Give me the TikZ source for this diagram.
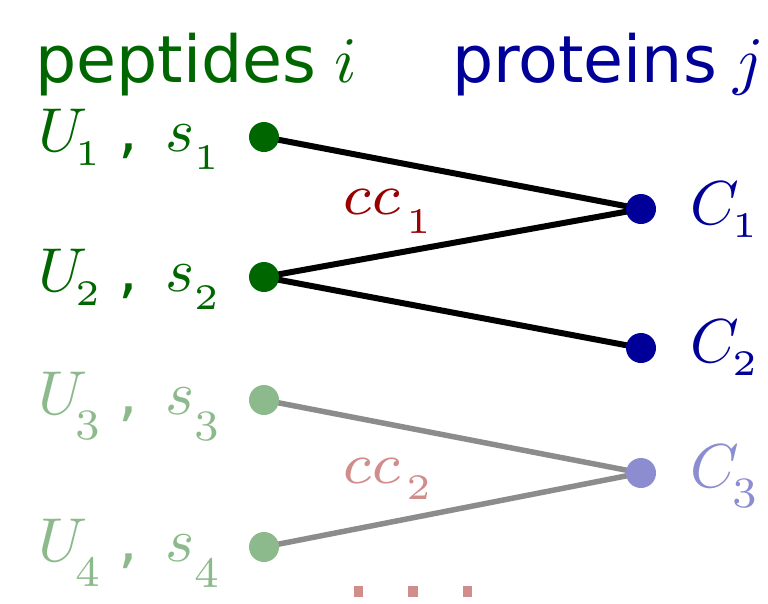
\documentclass[tikz,border=0pt]{standalone}
\usepackage{fix-cm}
\usepackage{fontspec}
\setmainfont{DejaVu Sans}
\usetikzlibrary{backgrounds}
\definecolor{pgreen}{RGB}{0,102,0}
\definecolor{pblue}{RGB}{0,0,153}
\definecolor{pred}{RGB}{153,0,0}
\newcommand{\fs}[1]{\fontsize{#1}{#1}\selectfont}
\newcommand{\mt}[2]{\scalebox{#1}{\fs{10}$#2$}}
\newcommand{\dk}[1]{\mt{7.2}{\scriptscriptstyle #1}}
\newcommand{\fd}[1]{\mt{6.2}{\scriptstyle #1}}
\newcommand{\pc}[3]{\rlap{\hspace*{#1}\raisebox{#2}{#3}}}
% peptide label: U-sub, s-sub, U-sub raise, s-sub raise
\newcommand{\plab}[4]{\makebox[185pt][l]{\pc{0pt}{0pt}{\mt{6.2}{U}}\pc{37pt}{#3}{#1}\pc{80pt}{0pt}{,}\pc{127pt}{0pt}{\mt{6.2}{s}}\pc{156pt}{#4}{#2}}}
% protein label: sub, raise
\newcommand{\clab}[2]{\makebox[70pt][l]{\pc{0pt}{0pt}{\mt{6.2}{C}}\pc{42pt}{#2}{#1}}}
% cc label
\newcommand{\cclab}[2]{\makebox[85pt][l]{\pc{0pt}{0pt}{\mt{8.3}{\scriptstyle cc}}\pc{64pt}{#2}{#1}}}
\tikzset{
  lab/.style={inner sep=0pt, outer sep=0pt, anchor=base west, font=\fs{62}},
  dot/.style={circle, inner sep=0pt, minimum size=30pt},
  strong/.style={line width=6pt, black},
  faint/.style={line width=5.5pt, black!45},
}
\begin{document}
\begin{tikzpicture}[x=1pt, y=-1pt]
\useasboundingbox (0,0) rectangle (768,603);
% headers
\node[lab, text=pgreen, font=\fs{65}] (hpep) at (35,82) {peptides \hspace{-2pt}\mt{6.5}{i}};
\node[lab, text=pblue, font=\fs{65}] (hpro) at (452,82) {proteins \hspace{-4pt}\mt{6.5}{j}};
% dots
\node[dot, fill=pgreen] (p1) at (264,137) {};
\node[dot, fill=pgreen] (p2) at (264,277) {};
\node[dot, fill=pgreen!45] (p3) at (264,400) {};
\node[dot, fill=pgreen!45] (p4) at (264,547) {};
\node[dot, fill=pblue] (c1) at (641,209) {};
\node[dot, fill=pblue] (c2) at (641,348) {};
\node[dot, fill=pblue!45] (c3) at (641,473) {};
% edges
\begin{scope}[on background layer]
\draw[strong] (p1.center) -- (c1.center);
\draw[strong] (p2.center) -- (c1.center);
\draw[strong] (p2.center) -- (c2.center);
\draw[faint] (p3.center) -- (c3.center);
\draw[faint] (p4.center) -- (c3.center);
\end{scope}
% peptide labels
\node[lab, text=pgreen] (l1) at (38,151) {\plab{\dk1}{\dk1}{-14pt}{-18pt}};
\node[lab, text=pgreen] (l2) at (38,291) {\plab{\dk2}{\dk2}{-14pt}{-18pt}};
\node[lab, text=pgreen!45] (l3) at (38,414) {\plab{\fd3}{\fd3}{-25pt}{-26pt}};
\node[lab, text=pgreen!45] (l4) at (38,561) {\plab{\fd4}{\fd4}{-25pt}{-26pt}};
% protein labels
\node[lab, text=pblue] (lc1) at (690,224) {\clab{\dk1}{-13pt}};
\node[lab, text=pblue] (lc2) at (690,362) {\clab{\dk2}{-13pt}};
\node[lab, text=pblue!45] (lc3) at (690,487) {\clab{\fd3}{-20pt}};
% cc labels
\node[lab, text=pred] (cc1) at (342,214) {\cclab{\dk1}{-19pt}};
\node[lab, text=pred!45] (cc2) at (342,483) {\cclab{\dk2}{-16pt}};
% continuation dots
\fill[pred!45] (354,586) rectangle (363,597);
\fill[pred!45] (408,586) rectangle (418,597);
\fill[pred!45] (463,586) rectangle (472,597);
\end{tikzpicture}
\end{document}
